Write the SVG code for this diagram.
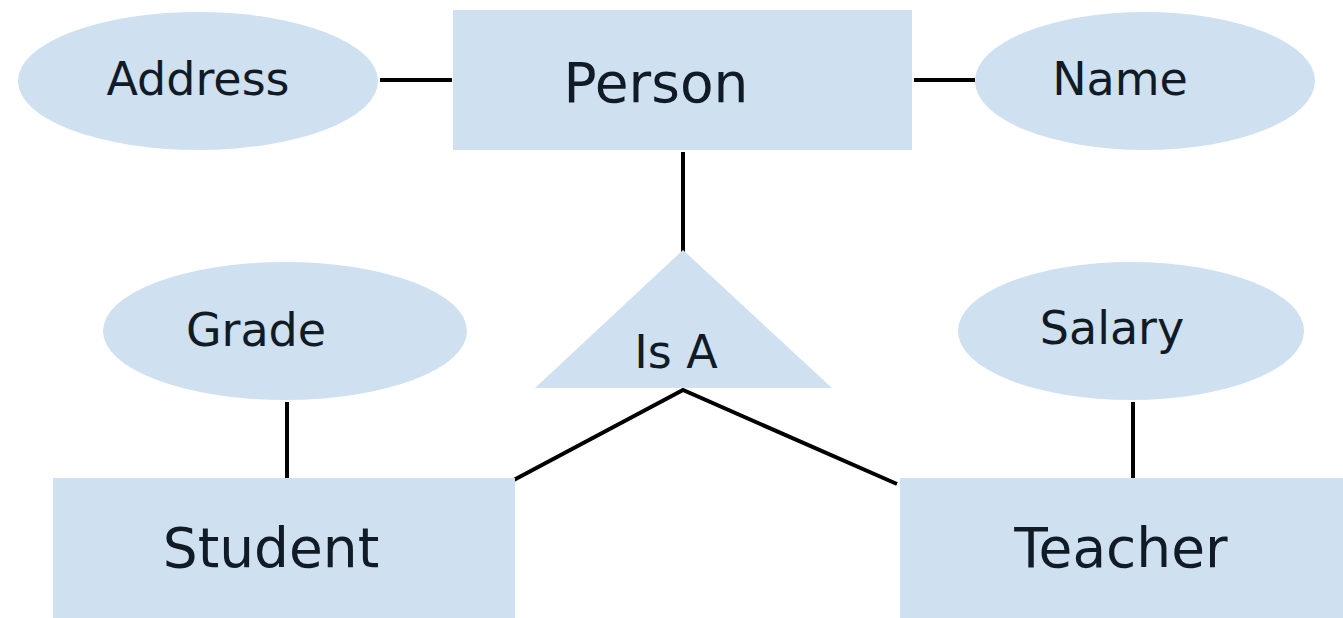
<svg xmlns="http://www.w3.org/2000/svg" width="1343" height="618" viewBox="0 0 1343 618">
<style>
.shape{fill:#cfe0f1;}
.lbl{font-family:"DejaVu Sans","Liberation Sans",sans-serif;fill:#101b26;text-anchor:middle;}
.big{font-size:55px;}
.small{font-size:46px;}
.edge{stroke:#000;stroke-width:4;fill:none;}
</style>
<rect width="1343" height="618" fill="#fff"/>
<g id="connectors">
<line class="edge" x1="380" y1="80" x2="452" y2="80"/>
<line class="edge" x1="914" y1="80" x2="975" y2="80"/>
<line class="edge" x1="683" y1="152" x2="683" y2="272"/>
<line class="edge" x1="287" y1="402" x2="287" y2="478"/>
<line class="edge" x1="1133" y1="402" x2="1133" y2="478"/>
<polyline class="edge" points="510,482 683,390 897,484"/>
</g>
<g id="address"><ellipse class="shape" cx="198" cy="81" rx="180" ry="69"/><text class="lbl small" x="198" y="95">Address</text></g>
<g id="person"><rect class="shape" x="453" y="10" width="459" height="140"/><text class="lbl big" x="656" y="102">Person</text></g>
<g id="name"><ellipse class="shape" cx="1145" cy="81" rx="170" ry="69"/><text class="lbl small" x="1120" y="95">Name</text></g>
<g id="isa"><polygon class="shape" points="683,250 832,388 535,388"/><text class="lbl small" x="676" y="368">Is A</text></g>
<g id="grade"><ellipse class="shape" cx="285" cy="331" rx="182" ry="69"/><text class="lbl small" x="256" y="346">Grade</text></g>
<g id="salary"><ellipse class="shape" cx="1131" cy="331" rx="173" ry="69"/><text class="lbl small" x="1112" y="344">Salary</text></g>
<g id="student"><rect class="shape" x="53" y="478" width="462" height="140"/><text class="lbl big" x="271" y="567">Student</text></g>
<g id="teacher"><rect class="shape" x="900" y="478" width="443" height="140"/><text class="lbl big" x="1121" y="567">Teacher</text></g>
</svg>
